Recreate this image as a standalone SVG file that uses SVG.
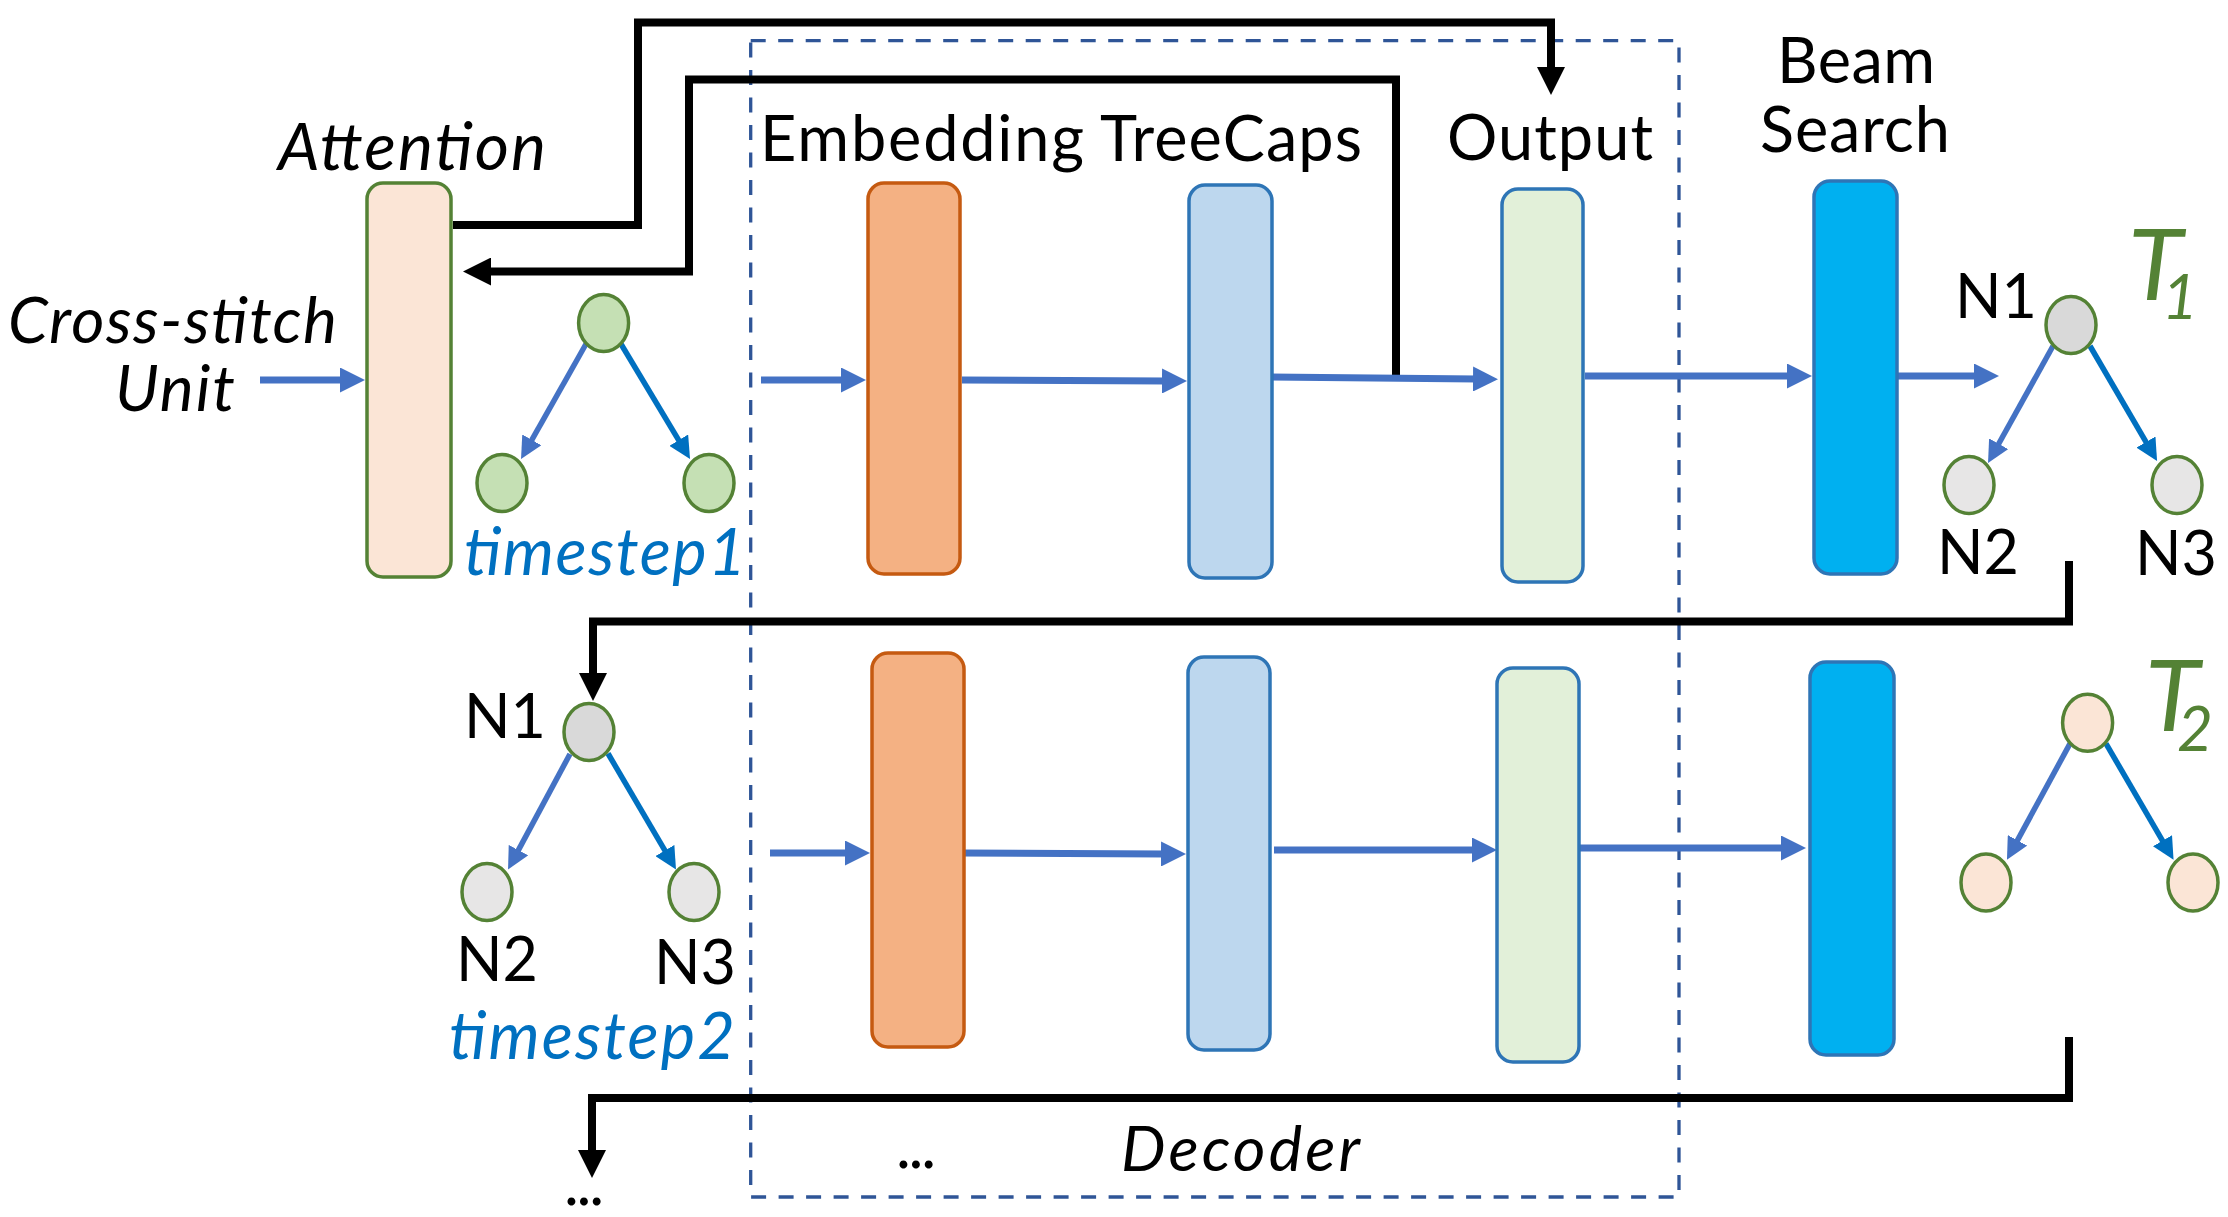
<svg xmlns="http://www.w3.org/2000/svg" width="2228" height="1217" viewBox="0 0 2228 1217">
<style>
.t{font-family:Lato,"Liberation Sans",sans-serif;font-size:63px;fill:#000}
.n{font-size:61px;text-anchor:middle}
.i{font-style:italic}
.ts{fill:#0070C0}
.tt{fill:#548235;font-style:italic}
.box{stroke-width:3.5}
.att{fill:#FBE5D6;stroke:#548235}
.emb{fill:#F4B183;stroke:#C55A11}
.tc{fill:#BDD7EE;stroke:#2E75B6}
.out{fill:#E2F0D9;stroke:#2E75B6}
.beam{fill:#00B0F0;stroke:#2E75B6}
.nd{stroke:#548235;stroke-width:3.5}
.g{fill:#C5E0B4}
.gr{fill:#D9D9D9}
.lg{fill:#E7E6E6}
.pk{fill:#FBE5D6}
.bl{fill:none;stroke:#4472C4;stroke-width:7;marker-end:url(#ab)}
.tl{fill:none;stroke:#4472C4;stroke-width:5.5;marker-end:url(#atl)}
.tr{fill:none;stroke:#0070C0;stroke-width:5.5;marker-end:url(#atr)}
.bk{fill:none;stroke:#000;stroke-width:8;stroke-linejoin:miter;marker-end:url(#ak)}
</style>
<defs>
<marker id="ab" markerUnits="userSpaceOnUse" markerWidth="25" markerHeight="25" viewBox="0 0 25 25" refX="4" refY="12.5" orient="auto"><path d="M0,0 L25,12.5 L0,25 z" fill="#4472C4"/></marker>
<marker id="atl" markerUnits="userSpaceOnUse" markerWidth="22" markerHeight="22" viewBox="0 0 22 22" refX="6" refY="11" orient="auto"><path d="M0,0 L22,11 L0,22 z" fill="#4472C4"/></marker>
<marker id="atr" markerUnits="userSpaceOnUse" markerWidth="22" markerHeight="22" viewBox="0 0 22 22" refX="6" refY="11" orient="auto"><path d="M0,0 L22,11 L0,22 z" fill="#0070C0"/></marker>
<marker id="ak" markerUnits="userSpaceOnUse" markerWidth="28" markerHeight="28" viewBox="0 0 28 28" refX="4" refY="14" orient="auto"><path d="M0,0 L28,14 L0,28 z" fill="#000"/></marker>
</defs>
<rect width="2228" height="1217" fill="#fff"/>

<g id="decoder">
<rect x="750.7" y="40.7" width="928.3" height="1156.3" fill="none" stroke="#2F5597" stroke-width="3.3" stroke-dasharray="15 12.5"/>
<text class="t i" x="1121" y="1171" textLength="239">Decoder</text>
<text class="t" x="896" y="1168" textLength="40">...</text>
</g>

<g id="connectors">
<path class="bk" d="M453 225 H638 V22.5 H1551 V71"/>
<path class="bk" d="M1396 380 V79.5 H689 V271.5 H487"/>
<path class="bk" d="M2069 561 V621.5 H593 V677"/>
<path class="bk" d="M2069 1037 V1098 H592 V1154"/>
<path class="bl" d="M260 380 H344"/>
<path class="bl" d="M761 380 H845"/>
<path class="bl" d="M962 380 L1166 381"/>
<path class="bl" d="M1270 377 L1477 379"/>
<path class="bl" d="M1585 376 H1791"/>
<path class="bl" d="M1897 376 H1978"/>
<path class="bl" d="M770 853 H849"/>
<path class="bl" d="M961 853 L1165 854"/>
<path class="bl" d="M1274 850 L1476 850"/>
<path class="bl" d="M1578 848 H1785"/>
<path class="tl" d="M586 344 L528.9 445.1"/>
<path class="tr" d="M621 344 L681.8 445.3"/>
<path class="tl" d="M2053 346 L1995.8 449"/>
<path class="tr" d="M2090 346 L2149 447.2"/>
<path class="tl" d="M570 754 L515.6 855.4"/>
<path class="tr" d="M608 753.5 L667.9 855.7"/>
<path class="tl" d="M2070 743.6 L2014.6 845.6"/>
<path class="tr" d="M2106 743.6 L2165.5 845.9"/>
</g>

<g id="attention">
<rect class="box att" x="367" y="183" width="84" height="394" rx="16"/>
<text class="t i" x="278" y="170" textLength="268" style="font-size:66px">Attention</text>
</g>
<g id="crossstitch">
<text class="t i" style="font-size:64px"><tspan x="8" y="343" textLength="329">Cross-stitch</tspan><tspan x="115" y="411" textLength="120">Unit</tspan></text>
</g>

<g id="tree-timestep1">
<ellipse class="nd g" cx="603.6" cy="323" rx="25" ry="28.5"/>
<ellipse class="nd g" cx="502" cy="483" rx="25" ry="28.5"/>
<ellipse class="nd g" cx="709" cy="483" rx="25" ry="28.5"/>
<text class="t i ts" x="464" y="575" textLength="282" style="font-size:65px">timestep1</text>
</g>

<g id="embedding1"><rect class="box emb" x="868" y="183" width="92" height="391" rx="16"/>
<text class="t" x="760" y="161" textLength="324">Embedding</text></g>
<g id="treecaps1"><rect class="box tc" x="1189" y="185" width="83" height="393" rx="16"/>
<text class="t" x="1100" y="161" textLength="262">TreeCaps</text></g>
<g id="output1"><rect class="box out" x="1502" y="189" width="81" height="393" rx="16"/>
<text class="t" x="1447" y="160" textLength="206">Output</text></g>
<g id="beam1"><rect class="box beam" x="1814" y="181" width="83" height="393" rx="16"/>
<text class="t" x="1777" y="83" textLength="158">Beam</text>
<text class="t" x="1760" y="152" textLength="190">Search</text></g>

<g id="tree-T1">
<ellipse class="nd gr" cx="2071" cy="325" rx="25" ry="28.5"/>
<ellipse class="nd lg" cx="1969" cy="485" rx="25" ry="28.5"/>
<ellipse class="nd lg" cx="2177" cy="485" rx="25" ry="28.5"/>
<text class="t n" x="1996" y="318">N1</text>
<text class="t n" x="1978" y="574">N2</text>
<text class="t n" x="2176" y="575">N3</text>
<text class="t tt" style="font-size:100px"><tspan x="2128" y="300">T</tspan><tspan x="2162" y="319" style="font-size:62px">1</tspan></text>
</g>

<g id="tree-timestep2">
<ellipse class="nd gr" cx="589" cy="732" rx="25" ry="28.5"/>
<ellipse class="nd lg" cx="487" cy="892" rx="25" ry="28.5"/>
<ellipse class="nd lg" cx="694" cy="892" rx="25" ry="28.5"/>
<text class="t n" x="505" y="738">N1</text>
<text class="t n" x="497" y="981">N2</text>
<text class="t n" x="695" y="984">N3</text>
<text class="t i ts" x="449" y="1059" textLength="286" style="font-size:65px">timestep2</text>
</g>

<g id="embedding2"><rect class="box emb" x="872" y="653" width="92" height="394" rx="16"/></g>
<g id="treecaps2"><rect class="box tc" x="1188" y="657" width="82" height="393" rx="16"/></g>
<g id="output2"><rect class="box out" x="1497" y="668" width="82" height="394" rx="16"/></g>
<g id="beam2"><rect class="box beam" x="1810" y="662" width="84" height="393" rx="16"/></g>

<g id="tree-T2">
<ellipse class="nd pk" cx="2087.6" cy="722.8" rx="25" ry="28.5"/>
<ellipse class="nd pk" cx="1986" cy="882.5" rx="25" ry="28.5"/>
<ellipse class="nd pk" cx="2193" cy="882.5" rx="25" ry="28.5"/>
<text class="t tt" style="font-size:100px"><tspan x="2145" y="731">T</tspan><tspan x="2177" y="751" style="font-size:62px">2</tspan></text>
</g>

<g id="ellipsis-next">
<text class="t" x="564" y="1205" textLength="40">...</text>
</g>
</svg>
